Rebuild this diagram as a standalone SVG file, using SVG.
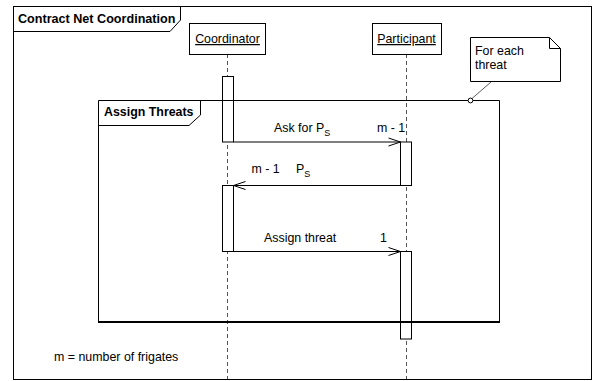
<svg xmlns="http://www.w3.org/2000/svg" width="593" height="381" viewBox="0 0 593 381">
<style>
text{font-family:"Liberation Sans",Arial,sans-serif;font-size:12.4px;fill:#000}
.b{font-weight:bold}
.sub{font-size:9px}
.ln{fill:none;stroke:#000;stroke-width:1}
.life{fill:none;stroke:#555;stroke-width:1;stroke-dasharray:4 3}
.act{fill:#fff;stroke:#000;stroke-width:1}
.msg{fill:none;stroke:#000;stroke-width:1}
</style>
<defs>
<marker id="open" viewBox="0 0 14 10" refX="13" refY="5" markerWidth="14" markerHeight="10" markerUnits="userSpaceOnUse" orient="auto">
<path d="M1,1 L13,5 L1,9" fill="none" stroke="#000" stroke-width="1"/>
</marker>
</defs>
<rect x="0" y="0" width="593" height="381" fill="#fff"/>
<g id="outer-frame">
<rect x="13.5" y="6.5" width="578" height="373" class="ln"/>
<path d="M13.5,31.5 H170 L180.5,20 V6.5" class="ln"/>
<text class="b" x="18" y="23" style="font-size:12.6px">Contract Net Coordination</text>
</g>
<g id="lifelines">
<line x1="227.5" y1="54" x2="227.5" y2="379" class="life"/>
<line x1="406.5" y1="54" x2="406.5" y2="379" class="life"/>
</g>
<g id="coordinator">
<rect x="189.5" y="23.5" width="76" height="31" class="ln" fill="#fff"/>
<text x="227.5" y="43" text-anchor="middle" text-decoration="underline">Coordinator</text>
</g>
<g id="participant">
<rect x="372.5" y="23.5" width="69" height="31" class="ln" fill="#fff"/>
<text x="406.5" y="43" text-anchor="middle" text-decoration="underline">Participant</text>
</g>
<g id="activations">
<rect x="222.5" y="76.5" width="11" height="65.5" class="act"/>
<rect x="400.5" y="142" width="11" height="43.5" class="act"/>
<rect x="222.5" y="185.5" width="11" height="66" class="act"/>
<rect x="400.5" y="251.5" width="11" height="87.5" class="act"/>
</g>
<g id="assign-threats">
<path d="M98.5,322 V100.5 H499.5 V322" class="ln"/>
<line x1="98" y1="322" x2="500" y2="322" stroke="#000" stroke-width="2.2"/>
<path d="M98.5,125.5 H189 L200.5,115 V100.5" class="ln"/>
<text class="b" x="104" y="116">Assign Threats</text>
</g>
<g id="note">
<path d="M470.5,37.5 H549.5 L560.5,48.5 V81.5 H470.5 Z" class="ln" fill="#fff"/>
<path d="M549.5,37.5 V48.5 H560.5" class="ln"/>
<text x="475" y="55">For each</text>
<text x="475" y="69">threat</text>
</g>
<g id="connectors">
<line x1="491" y1="82" x2="472" y2="98.5" stroke="#333" stroke-width="0.8"/>
<circle cx="470.5" cy="100.5" r="2.4" fill="#fff" stroke="#000" stroke-width="1"/>
<line x1="233.5" y1="142" x2="400.5" y2="142" class="msg" marker-end="url(#open)"/>
<line x1="400.5" y1="185.5" x2="233.5" y2="185.5" class="msg" marker-end="url(#open)"/>
<line x1="233.5" y1="251.5" x2="400.5" y2="251.5" class="msg" marker-end="url(#open)"/>
</g>
<g id="labels">
<text x="274" y="132">Ask for P<tspan class="sub" dy="3.5">S</tspan></text>
<text x="377" y="132">m - 1</text>
<text x="251.5" y="173">m - 1</text>
<text x="296" y="173">P<tspan class="sub" dy="3.5">S</tspan></text>
<text x="264" y="242">Assign threat</text>
<text x="380" y="242">1</text>
<text x="54" y="361">m = number of frigates</text>
</g>
</svg>
